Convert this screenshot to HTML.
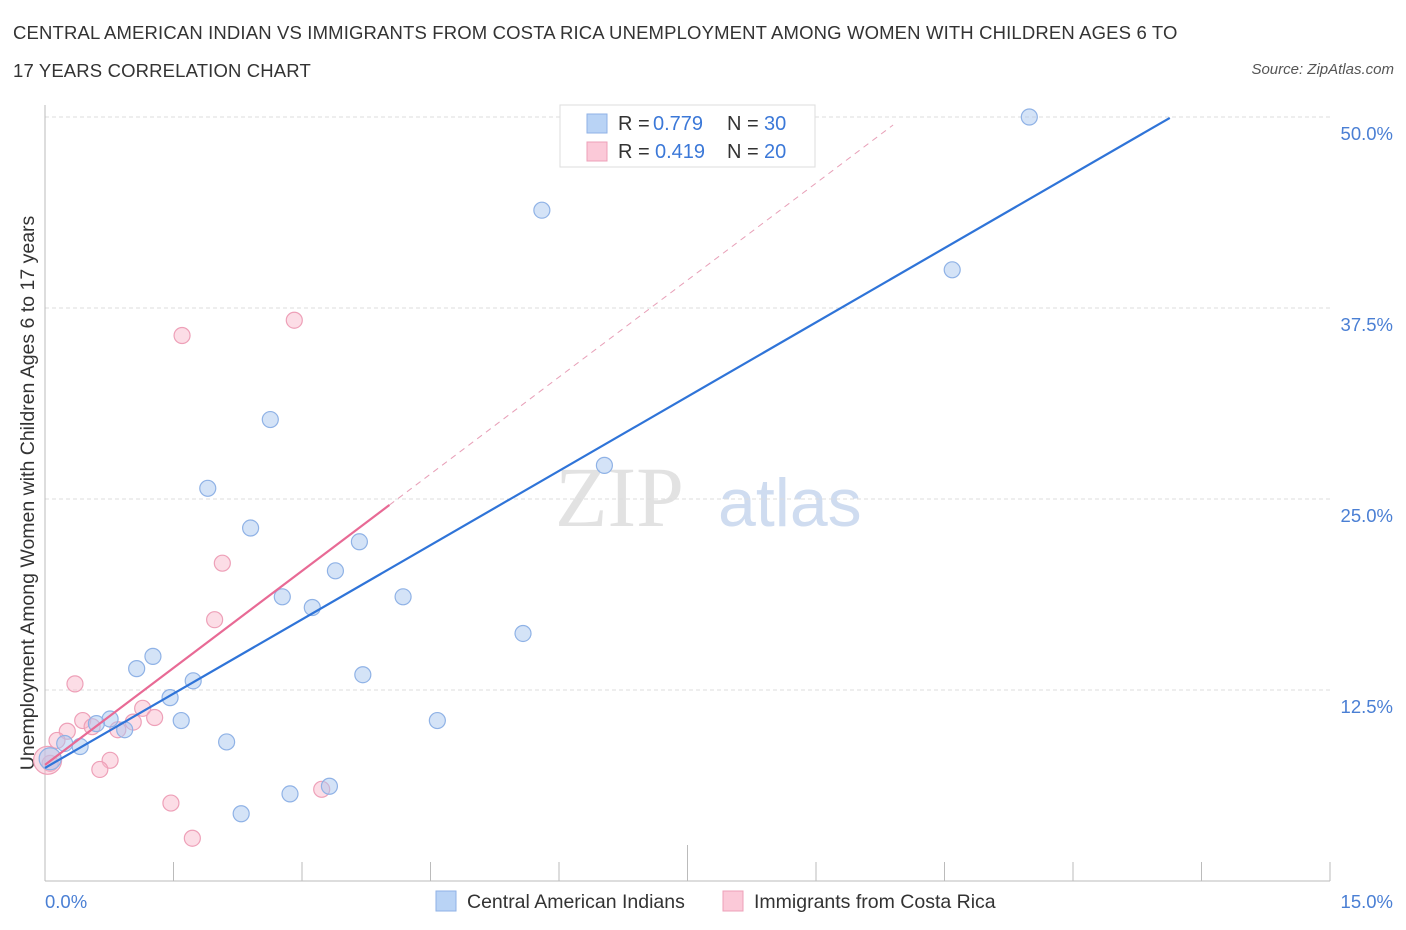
<!DOCTYPE html>
<html><head><meta charset="utf-8">
<style>
body{margin:0;background:#fff;font-family:"Liberation Sans",sans-serif;}
.t{position:absolute;color:#333;font-size:17px;}
</style></head>
<body>
<div style="position:relative;width:1406px;height:930px;overflow:hidden">
<div class="t" style="left:13px;top:14px;line-height:38px;font-size:18.5px;letter-spacing:0.15px">CENTRAL AMERICAN INDIAN VS IMMIGRANTS FROM COSTA RICA UNEMPLOYMENT AMONG WOMEN WITH CHILDREN AGES 6 TO<br>17 YEARS CORRELATION CHART</div>
<div class="t" style="right:12px;top:61px;font-style:italic;font-size:15px;color:#555">Source: ZipAtlas.com</div>
<svg id="c" width="1406" height="930" style="position:absolute;left:0;top:0"></svg>
</div>
<script>
const blueX=[11.49,5.80,10.59,2.63,6.53,1.90,2.40,3.67,3.39,2.77,4.18,3.12,5.58,1.26,1.07,3.71,1.73,1.46,0.76,1.59,4.58,0.93,0.60,2.12,0.41,0.23,0.06,2.86,3.32,2.29];
const blueY=[50.0,43.9,40.0,30.2,27.2,25.7,23.1,22.2,20.3,18.6,18.6,17.9,16.2,14.7,13.9,13.5,13.1,12.0,10.6,10.5,10.5,9.9,10.3,9.1,8.8,9.0,8.0,5.7,6.2,4.4];
const pinkX=[1.60,2.91,2.07,1.98,0.35,1.14,1.28,0.44,0.26,1.03,0.85,0.55,0.14,0.76,0.64,0.06,1.47,1.72,3.23,0.03];
const pinkY=[35.7,36.7,20.8,17.1,12.9,11.3,10.7,10.5,9.8,10.4,9.9,10.1,9.2,7.9,7.3,7.7,5.1,2.8,6.0,7.9];
const blueLine=[7.4,3.24];
const pinkLine=[7.6,4.23];
const yTicks=[12.5,25,37.5,50];
const yTickLabels=["12.5%","25.0%","37.5%","50.0%"];
const xTickVals=[0,1.5,3,4.5,6,7.5,9,10.5,12,13.5,15];

const sx=v=>45+v/15*1285, sy=v=>881-v*15.28;
const svg=document.getElementById('c');
const NS='http://www.w3.org/2000/svg';
function mk(tag,a,parent){const e=document.createElementNS(NS,tag);for(const k in a)e.setAttribute(k,a[k]);(parent||svg).appendChild(e);return e;}
let w=mk('text',{x:555,y:526,'font-size':86,'font-family':'Liberation Serif',fill:'#e2e2e2'});w.textContent='ZIP';


let w2=mk('text',{x:718,y:526,'font-size':68,'font-family':'Liberation Sans',fill:'#cfdcf0'});w2.textContent='atlas';


yTicks.forEach((v,i)=>{
 const g=mk('line',{x1:45,x2:1330,y1:sy(v),y2:sy(v),stroke:'#ddd','stroke-dasharray':'4,3'});
 
 
 const t=mk('text',{x:1393,y:sy(v)+23,'text-anchor':'end','font-size':18.5,fill:'#4a7fd4'});t.textContent=yTickLabels[i];
 
 
});
mk('line',{x1:45,x2:1330,y1:881,y2:881,stroke:'#bbb'});
mk('line',{x1:45,x2:45,y1:105,y2:881,stroke:'#bbb'});
xTickVals.forEach((v,i)=>{
 const l=mk('line',{x1:sx(v),x2:sx(v),y1:i==5?845:862,y2:881,stroke:'#bbb'});
 
 
});
let xl=mk('text',{x:45,y:908,'font-size':18.5,fill:'#4a7fd4'});xl.textContent='0.0%';


let xr=mk('text',{x:1393,y:908,'text-anchor':'end','font-size':18.5,fill:'#4a7fd4'});xr.textContent='15.0%';


let yt=mk('text',{x:0,y:0,'font-size':19.5,fill:'#333','text-anchor':'middle',transform:'translate(34,493) rotate(-90)'});yt.textContent='Unemployment Among Women with Children Ages 6 to 17 years';


pinkX.forEach((x,i)=>{
 const c=mk('circle',{cx:sx(x),cy:sy(pinkY[i]),r:i==19?14:8,fill:'rgba(248,180,200,0.45)',stroke:'#eea0b8','stroke-width':1.2});
 
 
});
blueX.forEach((x,i)=>{
 const c=mk('circle',{cx:sx(x),cy:sy(blueY[i]),r:i==26?11:8,fill:'rgba(170,200,240,0.5)',stroke:'#8fb2e6','stroke-width':1.2});
 
 
});
let bl=mk('line',{x1:sx(0),y1:sy(blueLine[0]),x2:sx(13.13),y2:sy(blueLine[0]+blueLine[1]*13.13),stroke:'#2f74d8','stroke-width':2.2});


let pd=mk('line',{x1:sx(4.02),y1:sy(pinkLine[0]+pinkLine[1]*4.02),x2:sx(9.9),y2:sy(pinkLine[0]+pinkLine[1]*9.9),stroke:'#e8a0b8','stroke-width':1,'stroke-dasharray':'6,5'});


let pl=mk('line',{x1:sx(0),y1:sy(pinkLine[0]),x2:sx(4.02),y2:sy(pinkLine[0]+pinkLine[1]*4.02),stroke:'#e86a95','stroke-width':2.2});


const lg=mk('g',{});


mk('rect',{x:560,y:105,width:255,height:62,fill:'#fff',stroke:'#ddd'},lg);
mk('rect',{x:587,y:114,width:20,height:19,fill:'#b9d3f5',stroke:'#8fb2e6'},lg);
mk('rect',{x:587,y:142,width:20,height:19,fill:'#fbc9d8',stroke:'#eea0b8'},lg);
function lt(x,y,s,col){const t=mk('text',{x:x,y:y,'font-size':20,fill:col},lg);t.textContent=s;}
lt(618,130,'R = ','#333');lt(653,130,'0.779','#3b78d8');lt(727,130,'N = ','#333');lt(764,130,'30','#3b78d8');
lt(618,158,'R = ','#333');lt(655,158,'0.419','#3b78d8');lt(727,158,'N = ','#333');lt(764,158,'20','#3b78d8');
const bl2=mk('g',{});


mk('rect',{x:436,y:891,width:20,height:20,fill:'#b9d3f5',stroke:'#8fb2e6'},bl2);
mk('rect',{x:723,y:891,width:20,height:20,fill:'#fbc9d8',stroke:'#eea0b8'},bl2);
let a=mk('text',{x:467,y:908,'font-size':19.5,fill:'#333'},bl2);a.textContent='Central American Indians';
let b=mk('text',{x:754,y:908,'font-size':19.5,fill:'#333'},bl2);b.textContent='Immigrants from Costa Rica';
</script>
</body></html>
